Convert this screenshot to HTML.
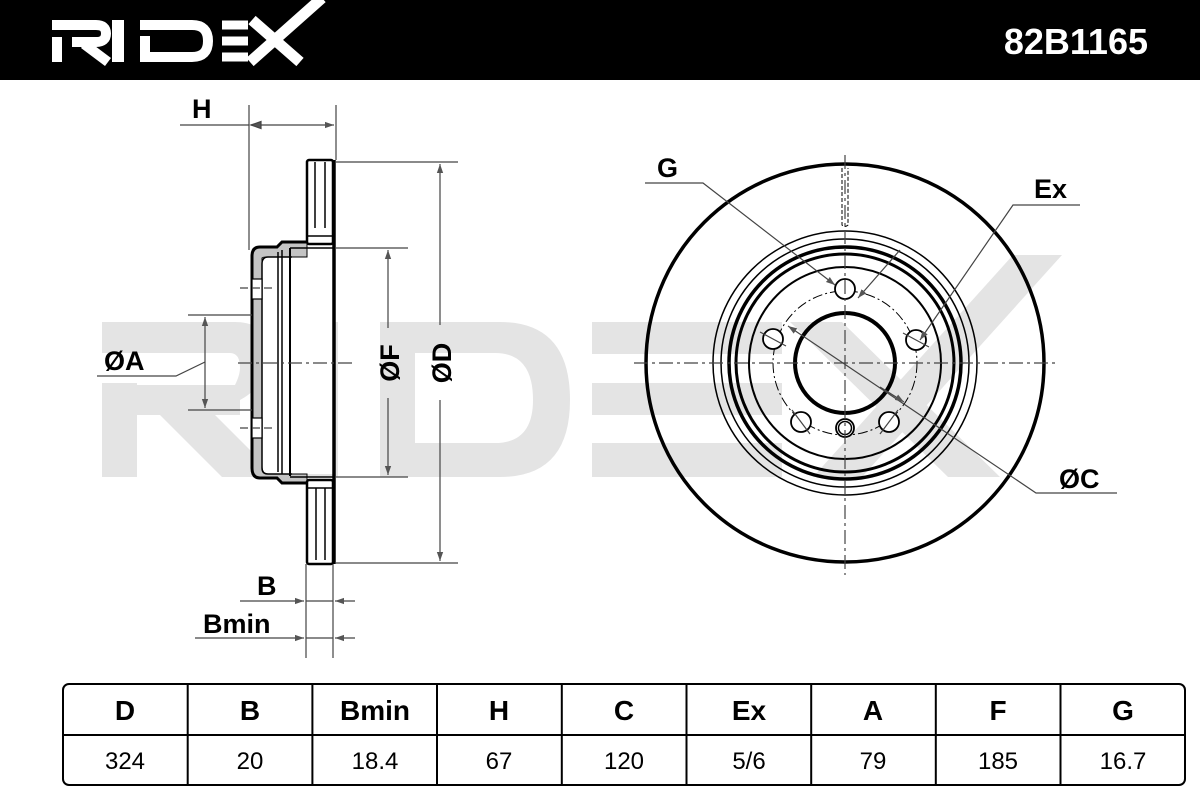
<!DOCTYPE html>
<html><head><meta charset="utf-8"><style>
html,body{margin:0;padding:0;background:#fff;}
svg{display:block;}
text{font-family:"Liberation Sans",sans-serif;}
</style></head><body>
<svg width="1200" height="800" viewBox="0 0 1200 800" xmlns="http://www.w3.org/2000/svg">
<defs>
<marker id="ah" viewBox="0 0 10 10" refX="10" refY="5" markerWidth="9" markerHeight="9" markerUnits="userSpaceOnUse" orient="auto"><path d="M0,1.5 L10,5 L0,8.5 Z" fill="#555"/></marker>
</defs>
<rect x="0" y="0" width="1200" height="80" fill="#000"/>
<g fill="none" stroke="#fff">
 <path d="M57,62 V37 M52,25 H96 Q106,25 106,33.5 Q106,42 96,42 H72 M84,44 L108,62" stroke-width="10"/>
 <path d="M118,20 V62" stroke-width="12"/>
 <path d="M145,62 V36 M140,25 H192 Q208,25 208,41 Q208,57 192,57 H140" stroke-width="10"/>
 <path d="M222,25 H248 M222,41 H248 M222,57 H248" stroke-width="9"/>
 <path d="M252,20 L300,62 M250,62 L322,-2" stroke-width="11"/>
</g>
<text x="1148" y="54" text-anchor="end" font-size="36" font-weight="bold" fill="#fff">82B1165</text>

<g fill="#e4e4e4">
 <path d="M102,322 H235 Q268,322 268,353 Q268,385 240,400 L240,415 H102 V385 H235 Q240,375 240,368 Q240,353 230,353 H102 Z"/>
 <rect x="102" y="383" width="35" height="94"/>
 <polygon points="150,405 205,405 277,477 222,477"/>
 <rect x="298" y="322" width="40" height="155"/>
 <path d="M380,322 H500 Q570,322 570,400 Q570,477 500,477 H380 Z M415,353 V443 H495 Q533,443 533,400 Q533,353 495,353 Z" fill-rule="evenodd"/>
 <rect x="592" y="322" width="190" height="32"/>
 <rect x="592" y="383" width="190" height="32"/>
 <rect x="592" y="443" width="190" height="34"/>
 <polygon points="1013,255 1062,255 862,477 813,477"/>
 <polygon points="790,322 842,322 1000,477 948,477"/>
</g>

<rect x="262" y="257" width="71" height="217" fill="#fff"/>
<g stroke="#000" fill="none">
 <path d="M307,242 L282,242 L277,247 L260,247 Q252,247 252,256 L252,468 Q252,478 260,478 L277,478 L282,483 L307,483 L307,474 L290,474 L268,474 Q262,474 262,466 L262,258 Q262,257 268,257 L290,257 L307,257 Z" fill="#c4c4c4" stroke-width="1"/>
 <path d="M307,242 L282,242 L277,247 L260,247 Q252,247 252,256 L252,468 Q252,478 260,478 L277,478 L282,483 L307,483" stroke-width="3"/>
 <path d="M292,257 L268,257 Q262,257 262,264 L262,468 Q262,474 268,474 L292,474" stroke-width="1.5"/>
 <line x1="278" y1="252" x2="278" y2="472" stroke-width="1.5"/>
 <line x1="282" y1="250" x2="282" y2="474" stroke-width="1.5"/>
 <line x1="290" y1="248" x2="290" y2="476" stroke-width="2"/>
 <line x1="290" y1="248" x2="333" y2="248" stroke-width="1.5"/>
 <line x1="290" y1="477" x2="333" y2="477" stroke-width="1.5"/>
 <rect x="252" y="279" width="10" height="20" fill="#fff" stroke-width="1.2"/>
 <rect x="252" y="418" width="10" height="20" fill="#fff" stroke-width="1.2"/>
 <rect x="307" y="160" width="26" height="84" rx="2" fill="#fff" stroke-width="2.5"/>
 <rect x="307" y="480" width="26" height="84" rx="2" fill="#fff" stroke-width="2.5"/>
 <path d="M315,162 V228 M325,162 V228 M316,488 V560 M325,488 V560" stroke-width="1.5"/>
 <line x1="334" y1="160" x2="334" y2="564" stroke-width="3.5"/>
 <line x1="307" y1="236" x2="333" y2="236" stroke-width="1.5"/>
 <line x1="307" y1="488" x2="333" y2="488" stroke-width="1.5"/>
</g>
<g stroke="#444" stroke-width="1.2" fill="none">
 <line x1="238" y1="363" x2="352" y2="363" stroke-dasharray="14,4,3,4"/>
 <line x1="240" y1="288" x2="275" y2="288" stroke-dasharray="8,4"/>
 <line x1="240" y1="428" x2="275" y2="428" stroke-dasharray="8,4"/>
 <line x1="249" y1="105" x2="249" y2="250"/>
 <line x1="336" y1="105" x2="336" y2="160"/>
 <line x1="180" y1="125" x2="249" y2="125"/>
 <line x1="251" y1="125" x2="334" y2="125" marker-end="url(#ah)"/>
 <path d="M251,125 l10,-3.5 v7 z" fill="#555"/>
 <line x1="336" y1="162" x2="458" y2="162"/>
 <line x1="336" y1="563" x2="458" y2="563"/>
 <line x1="440" y1="325" x2="440" y2="164" marker-end="url(#ah)"/>
 <line x1="440" y1="400" x2="440" y2="561" marker-end="url(#ah)"/>
 <line x1="336" y1="248" x2="408" y2="248"/>
 <line x1="336" y1="477" x2="408" y2="477"/>
 <line x1="388" y1="328" x2="388" y2="250" marker-end="url(#ah)"/>
 <line x1="388" y1="398" x2="388" y2="475" marker-end="url(#ah)"/>
 <line x1="188" y1="315" x2="252" y2="315"/>
 <line x1="188" y1="410" x2="252" y2="410"/>
 <line x1="205" y1="360" x2="205" y2="317" marker-end="url(#ah)"/>
 <line x1="205" y1="360" x2="205" y2="408" marker-end="url(#ah)"/>
 <polyline points="97,376 176,376 205,362"/>
 <line x1="306" y1="564" x2="306" y2="658"/>
 <line x1="333" y1="564" x2="333" y2="658"/>
 <line x1="240" y1="601" x2="304" y2="601" marker-end="url(#ah)"/>
 <line x1="355" y1="601" x2="335" y2="601" marker-end="url(#ah)"/>
 <line x1="306" y1="601" x2="333" y2="601"/>
 <line x1="195" y1="638" x2="304" y2="638" marker-end="url(#ah)"/>
 <line x1="355" y1="638" x2="335" y2="638" marker-end="url(#ah)"/>
 <line x1="306" y1="638" x2="333" y2="638"/>
</g>
<g font-weight="bold" font-size="27" fill="#000">
 <text x="192" y="118">H</text>
 <text x="104" y="370">ØA</text>
 <text x="257" y="595">B</text>
 <text x="203" y="633">Bmin</text>
 <text transform="translate(399,363) rotate(-90)" text-anchor="middle">ØF</text>
 <text transform="translate(451,363) rotate(-90)" text-anchor="middle">ØD</text>
 <text x="657" y="177">G</text>
 <text x="1034" y="198">Ex</text>
 <text x="1059" y="488">ØC</text>
</g>

<g stroke="#000" fill="none">
 <circle cx="845" cy="363" r="199" stroke-width="3.5"/>
 <circle cx="845" cy="363" r="132" stroke-width="1.5"/>
 <circle cx="845" cy="363" r="124" stroke-width="1.5"/>
 <circle cx="845" cy="363" r="116" stroke-width="3.5"/>
 <circle cx="845" cy="363" r="109" stroke-width="3"/>
 <circle cx="845" cy="363" r="96" stroke-width="2"/>
 <circle cx="845" cy="363" r="50" stroke-width="4"/>
 <circle cx="845" cy="363" r="72" stroke-width="1" stroke-dasharray="10,3,2,3"/>
 <circle cx="845" cy="289" r="10" fill="#fff" stroke-width="1.8"/>
 <circle cx="773" cy="339" r="10" fill="#fff" stroke-width="1.8"/>
 <circle cx="916" cy="340" r="10" fill="#fff" stroke-width="1.8"/>
 <circle cx="801" cy="422" r="10" fill="#fff" stroke-width="1.8"/>
 <circle cx="889" cy="422" r="10" fill="#fff" stroke-width="1.8"/>
 <circle cx="845" cy="428" r="9" fill="#fff" stroke-width="1.8"/>
 <circle cx="845" cy="428" r="6.5" stroke-width="1.5"/>
 <path d="M842,168 V225 Q845,228 848,225 V168" stroke-width="1" stroke-dasharray="4,2"/>
</g>
<g stroke="#444" stroke-width="1.2" fill="none">
 <line x1="634" y1="363" x2="1056" y2="363" stroke-dasharray="14,4,3,4"/>
 <line x1="845" y1="155" x2="845" y2="575" stroke-dasharray="14,4,3,4"/>
 <path d="M760,332 l26,14 M903,333 l26,14 M792,410 l18,24 M880,434 l18,-24" />
 <polyline points="645,183 703,183 835,285" marker-end="url(#ah)"/>
 <line x1="900" y1="250" x2="858" y2="298" marker-end="url(#ah)"/>
 <polyline points="1080,205 1013,205 920,340" marker-end="url(#ah)"/>
 <polyline points="1117,493 1036,493 788,326" marker-end="url(#ah)"/>
 <line x1="880" y1="387" x2="904" y2="402" marker-end="url(#ah)"/>
</g>

<g stroke="#000" stroke-width="2" fill="none">
 <rect x="63" y="684" width="1122" height="101" rx="6"/>
 <line x1="63" y1="735" x2="1185" y2="735"/>
 <path d="M187.7,684V785 M312.4,684V785 M437,684V785 M561.8,684V785 M686.5,684V785 M811.2,684V785 M935.8,684V785 M1060.5,684V785"/>
</g>
<g text-anchor="middle" fill="#000">
 <g font-weight="bold" font-size="28">
  <text x="125" y="720">D</text><text x="250" y="720">B</text><text x="375" y="720">Bmin</text>
  <text x="499" y="720">H</text><text x="624" y="720">C</text><text x="749" y="720">Ex</text>
  <text x="873" y="720">A</text><text x="998" y="720">F</text><text x="1123" y="720">G</text>
 </g>
 <g font-size="24">
  <text x="125" y="769">324</text><text x="250" y="769">20</text><text x="375" y="769">18.4</text>
  <text x="499" y="769">67</text><text x="624" y="769">120</text><text x="749" y="769">5/6</text>
  <text x="873" y="769">79</text><text x="998" y="769">185</text><text x="1123" y="769">16.7</text>
 </g>
</g>
</svg>
</body></html>
